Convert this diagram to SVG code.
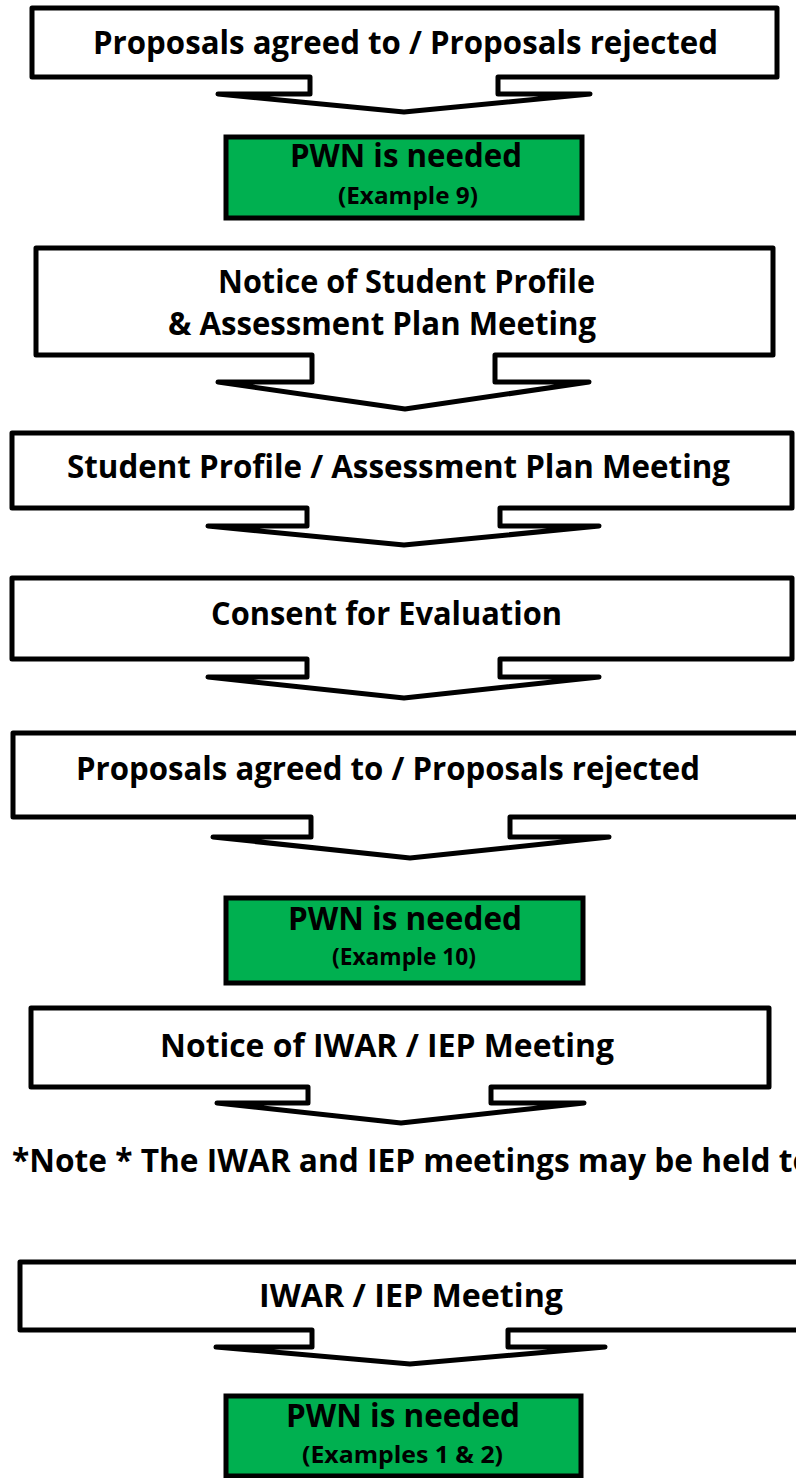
<svg xmlns="http://www.w3.org/2000/svg" width="796" height="1478" viewBox="0 0 796 1478">
  <style>
    .callout { fill: #ffffff; stroke: #000000; stroke-width: 5; stroke-linejoin: round; stroke-linecap: round; }
    .pwn { fill: #00B050; stroke: #000000; stroke-width: 5; stroke-linejoin: miter; }
    .t { font-family: "Open Sans", "Lato", "Liberation Sans", sans-serif; font-weight: 700; font-size: 33px; fill: #000000; }
    .s { font-family: "Open Sans", "Lato", "Liberation Sans", sans-serif; font-weight: 700; font-size: 23px; fill: #000000; }
  </style>
  <rect x="0" y="0" width="796" height="1478" fill="#ffffff"/>

  <g id="step1-proposals">
    <path class="callout" d="M32,8 H777 V77 H498 V94 H590 L404,112 L218,94 H310 V77 H32 Z"/>
    <text class="t" x="93" y="54" textLength="625" lengthAdjust="spacingAndGlyphs">Proposals agreed to / Proposals rejected</text>
  </g>

  <g id="pwn-example9">
    <rect class="pwn" x="226" y="137" width="356" height="81"/>
    <text class="t" x="290" y="167" textLength="232" lengthAdjust="spacingAndGlyphs">PWN is needed</text>
    <text class="s" x="338" y="204" textLength="140" lengthAdjust="spacingAndGlyphs">(Example 9)</text>
  </g>

  <g id="step2-notice-profile">
    <path class="callout" d="M36,248 H773 V355 H495 V382 H589 L405,409 L218,382 H312 V355 H36 Z"/>
    <text class="t" x="218" y="293" textLength="377" lengthAdjust="spacingAndGlyphs">Notice of Student Profile</text>
    <text class="t" x="168" y="335" textLength="428" lengthAdjust="spacingAndGlyphs">&amp; Assessment Plan Meeting</text>
  </g>

  <g id="step3-profile-meeting">
    <path class="callout" d="M12,433 H792 V508 H500 V526 H599 L404,545 L208,526 H307 V508 H12 Z"/>
    <text class="t" x="67" y="478" textLength="663" lengthAdjust="spacingAndGlyphs">Student Profile / Assessment Plan Meeting</text>
  </g>

  <g id="step4-consent">
    <path class="callout" d="M12,578 H792 V659 H500 V677 H599 L404,698 L208,677 H307 V659 H12 Z"/>
    <text class="t" x="211" y="625" textLength="351" lengthAdjust="spacingAndGlyphs">Consent for Evaluation</text>
  </g>

  <g id="step5-proposals">
    <path class="callout" d="M13,733 H820 V817 H510 V837 H609 L410,858 L213,837 H311 V817 H13 Z"/>
    <text class="t" x="76" y="780" textLength="624" lengthAdjust="spacingAndGlyphs">Proposals agreed to / Proposals rejected</text>
  </g>

  <g id="pwn-example10">
    <rect class="pwn" x="226" y="898" width="357" height="85"/>
    <text class="t" x="288" y="930" textLength="234" lengthAdjust="spacingAndGlyphs">PWN is needed</text>
    <text class="s" x="332" y="965" textLength="144" lengthAdjust="spacingAndGlyphs">(Example 10)</text>
  </g>

  <g id="step6-notice-iwar">
    <path class="callout" d="M31,1008 H769 V1087 H491 V1103 H584 L401,1123 L217,1103 H308 V1087 H31 Z"/>
    <text class="t" x="160" y="1057" textLength="454" lengthAdjust="spacingAndGlyphs">Notice of IWAR / IEP Meeting</text>
  </g>

  <g id="note">
    <text class="t" x="12" y="1172" textLength="800" lengthAdjust="spacingAndGlyphs">*Note * The IWAR and IEP meetings may be held to</text>
  </g>

  <g id="step7-iwar-meeting">
    <path class="callout" d="M20,1262 H820 V1330 H508 V1347 H605 L410,1364 L216,1347 H312 V1330 H20 Z"/>
    <text class="t" x="259" y="1307" textLength="304" lengthAdjust="spacingAndGlyphs">IWAR / IEP Meeting</text>
  </g>

  <g id="pwn-examples1-2">
    <rect class="pwn" x="226" y="1396" width="355" height="80"/>
    <text class="t" x="286" y="1427" textLength="234" lengthAdjust="spacingAndGlyphs">PWN is needed</text>
    <text class="s" x="302" y="1463" textLength="201" lengthAdjust="spacingAndGlyphs">(Examples 1 &amp; 2)</text>
  </g>

  <g id="connectors"></g>
</svg>
